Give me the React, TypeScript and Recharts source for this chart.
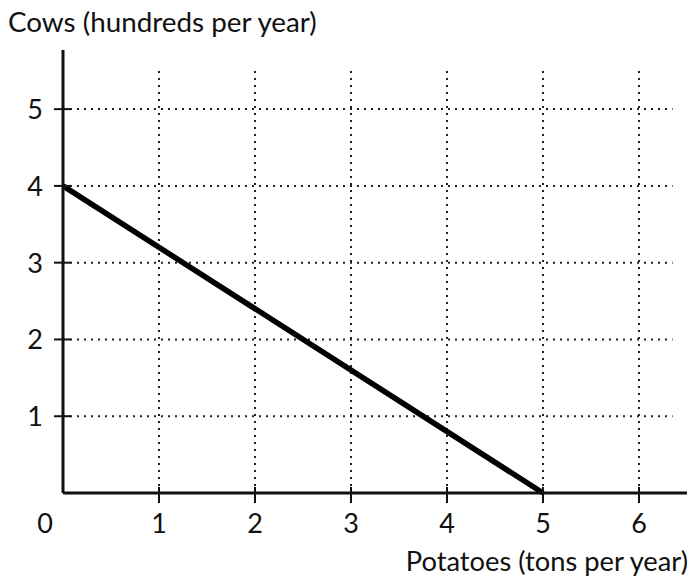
import React from 'react';
import { LineChart, Line, XAxis, YAxis, ReferenceLine, Label } from 'recharts';

const xTicks = [0, 1, 2, 3, 4, 5, 6];
const yTicks = [1, 2, 3, 4, 5];
const frontier = [
  { potatoes: 0, cows: 4 },
  { potatoes: 5, cows: 0 },
];
const xTitle = 'Potatoes (tons per year)';
const yTitle = 'Cows (hundreds per year)';

const FONT = 'Lato, "Open Sans", sans-serif';
const GRID_TOP = 5.5;
const GRID_RIGHT = 6.35;

const XTick = (props: any) => {
  const { x, y, payload } = props;
  const v = payload.value;
  if (v === 0) {
    return (
      <text x={x - 18} y={y + 40} textAnchor="middle" fontSize={27} fontFamily={FONT} fill="#111">
        0
      </text>
    );
  }
  return (
    <g>
      <line x1={x} x2={x} y1={y - 6} y2={y + 10} stroke="#111" strokeWidth={2} />
      <text x={x} y={y + 40} textAnchor="middle" fontSize={27} fontFamily={FONT} fill="#111">
        {v}
      </text>
    </g>
  );
};

const YTick = (props: any) => {
  const { x, y, payload } = props;
  return (
    <g>
      <line x1={x - 9} x2={x + 8} y1={y} y2={y} stroke="#111" strokeWidth={2} />
      <text x={x - 20} y={y + 10} textAnchor="end" fontSize={27} fontFamily={FONT} fill="#111">
        {payload.value}
      </text>
    </g>
  );
};

export default function App() {
  return (
    <div style={{ position: 'absolute', left: 0, top: 0, background: '#fff' }}>
      <LineChart
        width={696}
        height={580}
        data={frontier}
        margin={{ top: 50, right: 9, bottom: 57, left: 13 }}
      >
        {xTicks.slice(1).map((t) => (
          <ReferenceLine
            key={'vx' + t}
            segment={[{ x: t, y: 0 }, { x: t, y: GRID_TOP }]}
            stroke="#222"
            strokeWidth={2}
            strokeDasharray="2 5"
            ifOverflow="visible"
          />
        ))}
        {yTicks.map((t) => (
          <ReferenceLine
            key={'hy' + t}
            segment={[{ x: 0, y: t }, { x: GRID_RIGHT, y: t }]}
            stroke="#222"
            strokeWidth={2}
            strokeDasharray="2 5"
            ifOverflow="visible"
          />
        ))}
        <XAxis
          dataKey="potatoes"
          type="number"
          domain={[0, 6.5]}
          ticks={xTicks}
          interval={0}
          height={30}
          axisLine={{ stroke: '#111', strokeWidth: 3 }}
          tickLine={false}
          tickSize={0}
          tickMargin={0}
          tick={<XTick />}
        >
          <Label
            content={(p: any) => {
              const vb = p.viewBox || { x: 63, y: 493, width: 624 };
              return (
                <text x={vb.x + vb.width + 1} y={vb.y + 78} textAnchor="end" fontSize={27.3} fontFamily={FONT} fill="#111">
                  {xTitle}
                </text>
              );
            }}
          />
        </XAxis>
        <YAxis
          type="number"
          domain={[0, 5.77]}
          ticks={yTicks}
          interval={0}
          width={50}
          axisLine={{ stroke: '#111', strokeWidth: 3 }}
          tickLine={false}
          tickSize={0}
          tickMargin={0}
          tick={<YTick />}
        >
          <Label
            content={() => (
              <text x={8} y={32} textAnchor="start" fontSize={27.8} fontFamily={FONT} fill="#111">
                {yTitle}
              </text>
            )}
          />
        </YAxis>
        <Line
          dataKey="cows"
          type="linear"
          stroke="#000"
          strokeWidth={5.5}
          dot={false}
          activeDot={false}
          isAnimationActive={false}
        />
      </LineChart>
    </div>
  );
}
